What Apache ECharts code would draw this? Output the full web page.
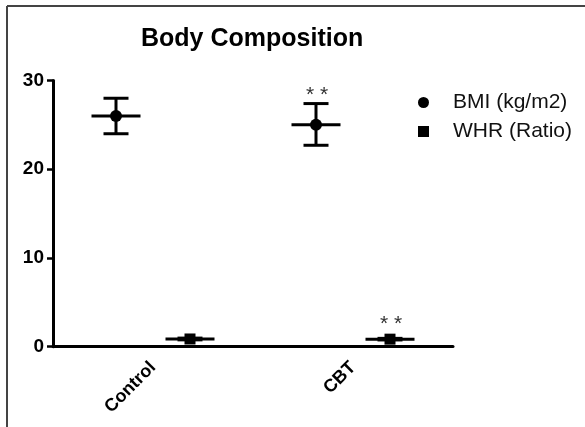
<!DOCTYPE html>
<html>
<head>
<meta charset="utf-8">
<script src="https://cdn.jsdelivr.net/npm/echarts@6/dist/echarts.min.js"></script>
<style>
  html, body { margin: 0; padding: 0; background: #fff; }
  #chart { width: 585px; height: 427px; }
</style>
</head>
<body>
<div id="chart"></div>
<script>
// groups on the x axis
var groups = ["Control", "CBT"];
// BMI (kg/m2): mean and error bar ends
var bmiMean = [26.0, 25.0];
var bmiHigh = [28.0, 27.4];
var bmiLow = [24.0, 22.7];
// WHR (Ratio): mean and error bar ends
var whrMean = [0.87, 0.85];
var whrHigh = [0.97, 0.94];
var whrLow = [0.77, 0.76];
// significance marks per group
var marks = ["", "**"];
var yTicks = [0, 10, 20, 30];

var chart = echarts.init(document.getElementById("chart"));

function rows(mean, high, low) {
  return groups.map(function (g, i) {
    return [i, mean[i], high[i], low[i], marks[i]];
  });
}

function drawer(offset, shape) {
  return function (params, api) {
    var c = api.coord([api.value(0), api.value(1)]);
    var hi = api.coord([api.value(0), api.value(2)]);
    var lo = api.coord([api.value(0), api.value(3)]);
    var x = c[0] + offset;
    var st = { stroke: "#000", lineWidth: 3 };
    var kids = [
      { type: "line", shape: { x1: x, y1: hi[1], x2: x, y2: lo[1] }, style: st },
      { type: "line", shape: { x1: x - 12.5, y1: hi[1], x2: x + 12.5, y2: hi[1] }, style: st },
      { type: "line", shape: { x1: x - 12.5, y1: lo[1], x2: x + 12.5, y2: lo[1] }, style: st },
      { type: "line", shape: { x1: x - 24.5, y1: c[1], x2: x + 24.5, y2: c[1] }, style: st }
    ];
    if (shape === "circle") {
      kids.push({ type: "circle", shape: { cx: x, cy: c[1], r: 6 }, style: { fill: "#000" } });
    } else {
      kids.push({ type: "rect", shape: { x: x - 5.5, y: c[1] - 5.5, width: 11, height: 11 }, style: { fill: "#000" } });
    }
    var m = api.value(4);
    if (m) {
      var top = Math.min(hi[1], c[1] - 6);
      kids.push({
        type: "text",
        style: {
          text: String(m).split("").join(" "), x: x + 1, y: top + 2,
          align: "center", verticalAlign: "bottom",
          font: "21px Arial", fill: "#333"
        }
      });
    }
    return { type: "group", children: kids };
  };
}

chart.setOption({
  animation: false,
  backgroundColor: "#fff",
  title: {
    text: "Body Composition",
    left: 136,
    top: 22,
    textStyle: { fontFamily: "Arial", fontSize: 25, fontWeight: "bold", color: "#000" }
  },
  legend: {
    orient: "vertical",
    left: 413,
    top: 87,
    itemWidth: 11,
    itemHeight: 11,
    itemGap: 8,
    textStyle: { fontFamily: "Arial", fontSize: 21, color: "#111", padding: [0, 0, 0, 19] },
    data: [
      { name: "BMI (kg/m2)", icon: "circle" },
      { name: "WHR (Ratio)", icon: "rect" }
    ]
  },
  grid: { left: 53, right: 132, top: 80.5, bottom: 80.3 },
  xAxis: {
    type: "category",
    data: groups,
    axisLine: { lineStyle: { color: "#000", width: 3 } },
    axisTick: { alignWithLabel: true, length: 7, lineStyle: { color: "#000", width: 2.5 } },
    axisLabel: {
      rotate: 45, margin: 18,
      fontFamily: "Arial", fontSize: 18, fontWeight: "bold", color: "#000"
    }
  },
  yAxis: {
    type: "value",
    min: yTicks[0],
    max: yTicks[yTicks.length - 1],
    interval: 10,
    splitLine: { show: false },
    axisLine: { show: true, lineStyle: { color: "#000", width: 3 } },
    axisTick: { show: true, length: 6, lineStyle: { color: "#000", width: 2.5 } },
    axisLabel: { margin: 9, fontFamily: "Arial", fontSize: 19, fontWeight: "bold", color: "#000" }
  },
  series: [
    {
      name: "BMI (kg/m2)",
      type: "custom",
      itemStyle: { color: "#000" },
      renderItem: drawer(-37, "circle"),
      encode: { x: 0, y: [1, 2, 3] },
      data: rows(bmiMean, bmiHigh, bmiLow)
    },
    {
      name: "WHR (Ratio)",
      type: "custom",
      itemStyle: { color: "#000" },
      renderItem: drawer(37, "rect"),
      encode: { x: 0, y: [1, 2, 3] },
      data: rows(whrMean, whrHigh, whrLow)
    }
  ],
  graphic: [
    { type: "line", shape: { x1: 7, y1: 6, x2: 585, y2: 6 }, style: { stroke: "#444", lineWidth: 2 } },
    { type: "line", shape: { x1: 7, y1: 6, x2: 7, y2: 427 }, style: { stroke: "#444", lineWidth: 2 } }
  ]
});
</script>
</body>
</html>
